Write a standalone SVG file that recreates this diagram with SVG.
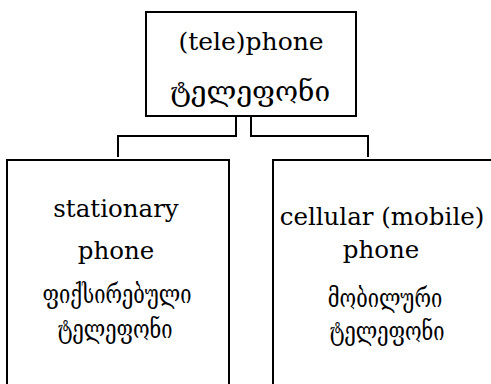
<svg xmlns="http://www.w3.org/2000/svg" width="491" height="384" viewBox="0 0 491 384">
<style>
.box{fill:#fff;stroke:#000;stroke-width:2}
.con{fill:none;stroke:#000;stroke-width:2}
text{font-family:"DejaVu Serif","Liberation Serif","Noto Sans",serif;fill:#000;text-anchor:middle}
.t{font-size:25px}
.tg{font-size:28px}
.b{font-size:24.5px}
.bg{font-size:26.5px}
</style>
<rect width="491" height="384" fill="#fff"/>
<g id="connectors">
<path class="con" d="M236,116 V136 H118 V157"/>
<path class="con" d="M251,116 V136 H368 V157"/>
</g>
<g id="telephone">
<rect class="box" x="146" y="12" width="210" height="104"/>
<text class="t" x="251" y="50">(tele)phone</text>
<text class="tg" x="250" y="101">ტელეფონი</text>
</g>
<g id="stationary">
<rect class="box" x="7" y="160" width="222" height="240"/>
<text class="b" x="116" y="217">stationary</text>
<text class="b" x="116" y="259">phone</text>
<text class="bg" transform="translate(117,303) scale(0.76,1)">ფიქსირებული</text>
<text class="bg" transform="translate(115,338) scale(0.76,1)">ტელეფონი</text>
</g>
<g id="cellular">
<rect class="box" x="273" y="160" width="240" height="240"/>
<text class="b" x="382" y="225">cellular (mobile)</text>
<text class="b" x="381" y="258">phone</text>
<text class="bg" transform="translate(385,307) scale(0.76,1)">მობილური</text>
<text class="bg" transform="translate(387,340) scale(0.76,1)">ტელეფონი</text>
</g>
</svg>
